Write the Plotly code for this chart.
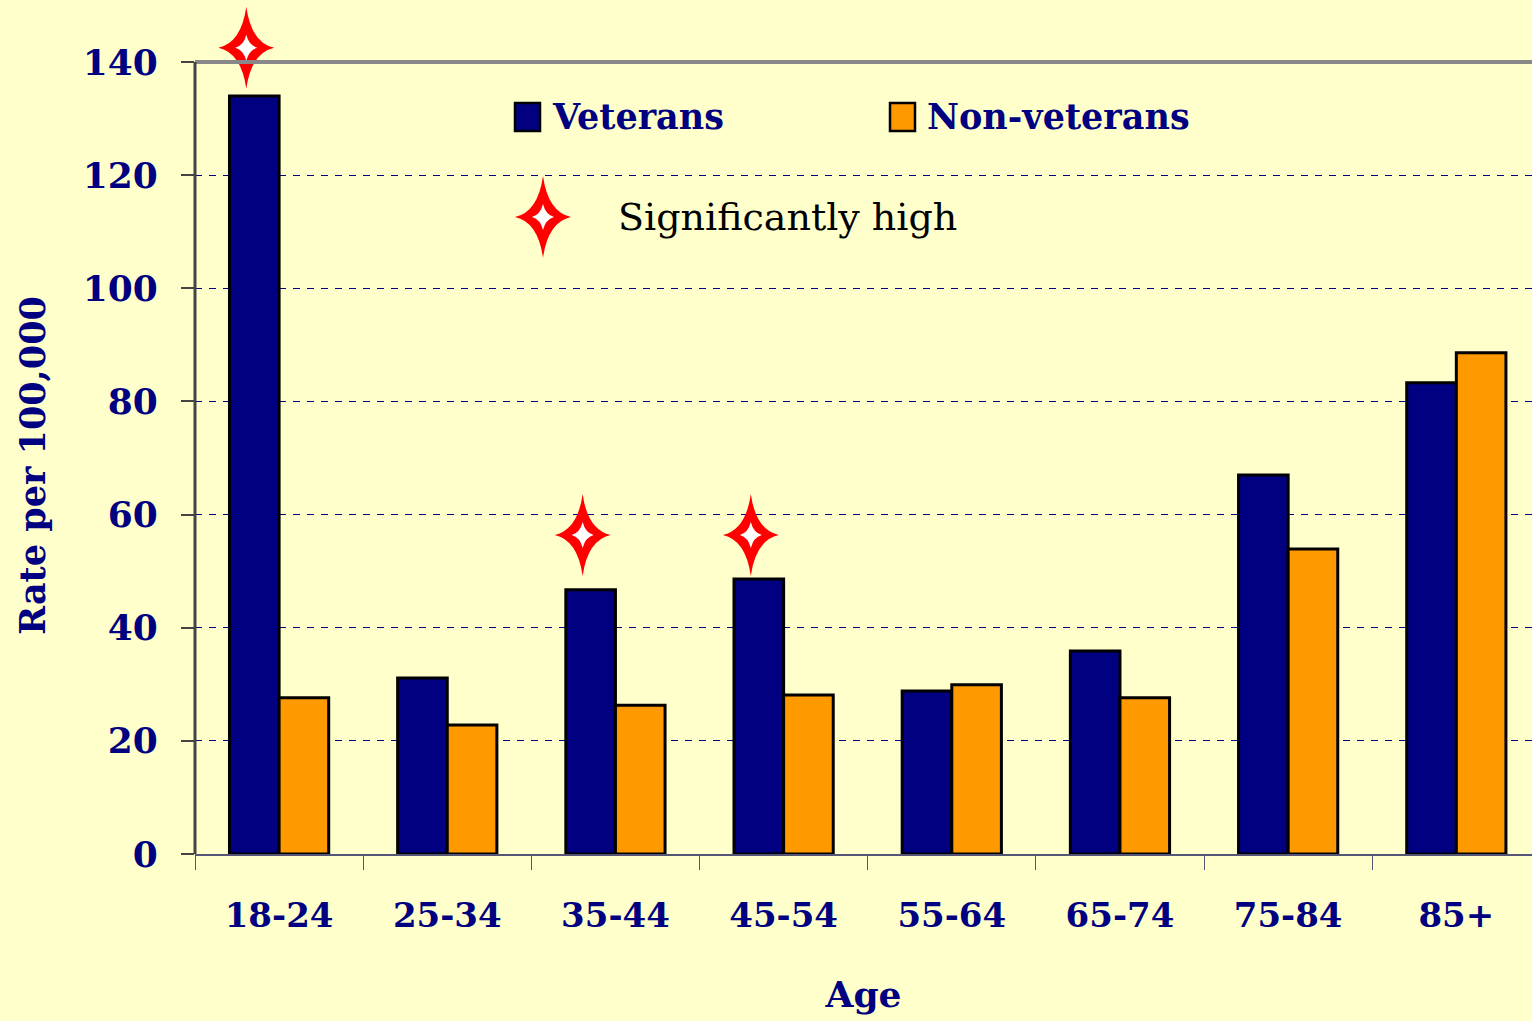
import plotly.graph_objects as go

ages = ["18-24", "25-34", "35-44", "45-54", "55-64", "65-74", "75-84", "85+"]
veterans = [134.0, 31.1, 46.7, 48.6, 28.8, 35.9, 67.0, 83.3]
non_veterans = [27.6, 22.8, 26.3, 28.1, 29.9, 27.6, 53.9, 88.6]
# groups where the veterans rate is significantly high, and where the marker sits
sig_groups = ["18-24", "35-44", "45-54"]
sig_marker_y = [142.5, 56.4, 56.4]
y_ticks = [0, 20, 40, 60, 80, 100, 120, 140]
Y_MAX = 140

NAVY = "#000080"
ORANGE = "#FF9900"
BG = "#FFFFCC"
RED = "#FF0000"
FONT = "DejaVu Serif"

W, H = 1532, 1021
ML, MB = 195, 167
PLOT_H = H - MB            # plot region height (top margin 0)
MAIN_TOP = 62              # pixel row of the 140 line
Y_TOP = Y_MAX * PLOT_H / (PLOT_H - MAIN_TOP)
X_RANGE = [-0.5, 7.45]

# four-pointed star glyph, in pixels relative to its anchor
STAR_OUTER = "M0,41 Q5,5 28,0 Q5,-5 0,-41 Q-5,-5 -28,0 Q-5,5 0,41 Z"
STAR_INNER = "M0,13 Q2.5,2.5 11,0 Q2.5,-2.5 0,-13 Q-2.5,-2.5 -11,0 Q-2.5,2.5 0,13 Z"


def py(p):  # pixel row -> paper y
    return (PLOT_H - p) / PLOT_H


def px(p):  # pixel column -> paper x
    return (p - ML) / (W - ML)


def star_shapes(xa, ya, xref, yref):
    out = []
    for path, col in ((STAR_OUTER, RED), (STAR_INNER, "white")):
        out.append(dict(type="path", path=path, xref=xref, yref=yref,
                        xsizemode="pixel", ysizemode="pixel", xanchor=xa, yanchor=ya,
                        fillcolor=col, line=dict(width=0), layer="above"))
    return out


fig = go.Figure()
fig.add_trace(go.Bar(x=ages, y=veterans, name="Veterans",
                     marker=dict(color=NAVY, line=dict(color="black", width=3)),
                     showlegend=False))
fig.add_trace(go.Bar(x=ages, y=non_veterans, name="Non-veterans",
                     marker=dict(color=ORANGE, line=dict(color="black", width=3)),
                     showlegend=False))
# invisible trace on the numeric overlay axis used for the star positions
fig.add_trace(go.Scatter(x=X_RANGE, y=[0, 0], xaxis="x2", mode="lines",
                         line=dict(width=0), showlegend=False, hoverinfo="skip"))

# stars just left of the veterans bar centre of each flagged group
star_offset = -0.195
shapes = []
for g, yv in zip(sig_groups, sig_marker_y):
    shapes += star_shapes(ages.index(g) + star_offset, yv, "x2", "y")
shapes += star_shapes(px(543), py(217), "paper", "paper")

shapes += [
    dict(type="line", xref="paper", yref="y", x0=0, x1=1, y0=Y_MAX, y1=Y_MAX,
         line=dict(color="#888888", width=4), layer="above"),
    dict(type="line", xref="paper", yref="y", x0=0, x1=0, y0=0, y1=Y_MAX,
         line=dict(color="#444444", width=3), layer="above"),
    dict(type="rect", xref="paper", yref="paper", x0=px(515), x1=px(540),
         y0=py(131), y1=py(103), fillcolor=NAVY, line=dict(color="black", width=2.5)),
    dict(type="rect", xref="paper", yref="paper", x0=px(890), x1=px(915),
         y0=py(131), y1=py(103), fillcolor=ORANGE, line=dict(color="black", width=2.5)),
]

fig.update_layout(
    width=W, height=H,
    margin=dict(l=ML, r=0, t=0, b=MB),
    paper_bgcolor=BG, plot_bgcolor=BG,
    barmode="group", bargap=0.41, bargroupgap=0,
    font=dict(family=FONT, color=NAVY),
    xaxis=dict(type="category", range=X_RANGE, tickson="boundaries",
               ticks="outside", ticklen=14, tickwidth=1, tickcolor="#555577",
               showline=True, linecolor="#555577", linewidth=2,
               showgrid=False, ticklabelstandoff=30,
               tickfont=dict(family=FONT, size=34, color=NAVY, weight="bold"),
               title=dict(text="Age", standoff=48,
                          font=dict(family=FONT, size=36, color=NAVY, weight="bold"))),
    xaxis2=dict(overlaying="x", range=X_RANGE, visible=False),
    yaxis=dict(range=[0, Y_TOP], tickvals=y_ticks,
               ticks="outside", ticklen=13,
               tickwidth=2, tickcolor="#444444", showline=False,
               zeroline=False, showgrid=True, gridcolor=NAVY, gridwidth=1,
               griddash="7px,7px", ticklabelstandoff=16,
               tickfont=dict(family=FONT, size=36, color=NAVY, weight="bold")),
    shapes=shapes,
    annotations=[
        dict(text="Rate per 100,000", xref="paper", yref="paper", x=px(33), y=py(466),
             xanchor="center", yanchor="middle", textangle=-90, showarrow=False,
             font=dict(family=FONT, size=35, color=NAVY, weight="bold")),
        dict(text="Veterans", xref="paper", yref="paper", x=px(550), y=py(116),
             xanchor="left", yanchor="middle", showarrow=False,
             font=dict(family=FONT, size=35, color=NAVY, weight="bold")),
        dict(text="Non-veterans", xref="paper", yref="paper", x=px(925), y=py(116),
             xanchor="left", yanchor="middle", showarrow=False,
             font=dict(family=FONT, size=35, color=NAVY, weight="bold")),
        dict(text="Significantly high", xref="paper", yref="paper", x=px(616), y=py(217),
             xanchor="left", yanchor="middle", showarrow=False,
             font=dict(family=FONT, size=38, color="black")),
    ],
)

fig.write_html("out.html", config={"displayModeBar": False},
               post_script="document.body.style.margin='0';document.body.style.overflow='hidden';")
